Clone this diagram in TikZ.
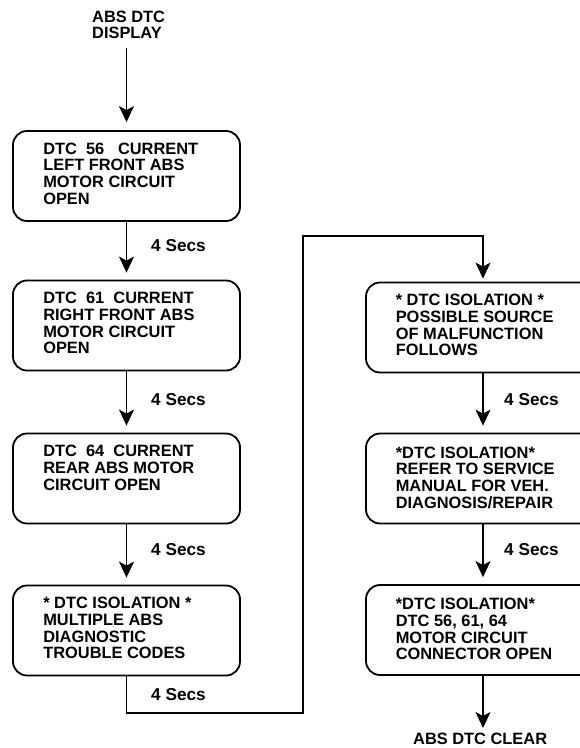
\documentclass[tikz,border=0pt]{standalone}
\usepackage{fontspec}
\setmainfont{Liberation Sans}
\usetikzlibrary{arrows.meta}
\begin{document}
\begin{tikzpicture}[x=1bp,y=-1bp,
 box/.style={draw, line width=1.8bp, rounded corners=14bp, minimum width=227bp, minimum height=90bp, inner sep=0pt},
 rbox/.style={box, minimum width=234bp},
 txt/.style={anchor=north west, inner sep=0pt, align=left, font=\bfseries\fontsize{16.4bp}{16.7bp}\selectfont},
 secs/.style={anchor=north west, inner sep=0pt, font=\bfseries\fontsize{17.2bp}{18bp}\selectfont},
 arr/.style={line width=1.4bp, -{Stealth[length=16bp,width=15bp,inset=4bp]}}]
\clip (0,0) rectangle (580,748);
% boxes
\node[box] (b1) at (126.5,176) {};
\node[box] (b2) at (126.5,325.5) {};
\node[box] (b3) at (126.5,478.5) {};
\node[box] (b4) at (126.5,630.5) {};
\node[rbox] (b5) at (483,327.5) {};
\node[rbox] (b6) at (483,478.5) {};
\node[rbox] (b7) at (483,630) {};
% texts
\node[txt] (title) at (92,10.5) {ABS DTC\\DISPLAY};
\node[txt] (t1) at ([shift={(31,12.5)}]b1.north west) {DTC\ \ 56\ \ \ CURRENT\\LEFT FRONT ABS\\MOTOR CIRCUIT\\OPEN};
\node[txt] (t2) at ([shift={(31,12.5)}]b2.north west) {DTC\ \ 61\ \ CURRENT\\RIGHT FRONT ABS\\MOTOR CIRCUIT\\OPEN};
\node[txt] (t3) at ([shift={(31,12.5)}]b3.north west) {DTC\ \ 64\ \ CURRENT\\REAR ABS MOTOR\\CIRCUIT OPEN};
\node[txt] (t4) at ([shift={(31,12.5)}]b4.north west) {* DTC ISOLATION *\\MULTIPLE ABS\\DIAGNOSTIC\\TROUBLE CODES};
\node[txt] (t5) at ([shift={(30.5,12.5)}]b5.north west) {* DTC ISOLATION *\\POSSIBLE SOURCE\\OF MALFUNCTION\\FOLLOWS};
\node[txt] (t6) at ([shift={(30.5,14)}]b6.north west) {*DTC ISOLATION*\\REFER TO SERVICE\\MANUAL FOR VEH.\\DIAGNOSIS/REPAIR};
\node[txt] (t7) at ([shift={(30.5,14)}]b7.north west) {*DTC ISOLATION*\\DTC 56, 61, 64\\MOTOR CIRCUIT\\CONNECTOR OPEN};
\node[txt] (clear) at (413,733) {ABS DTC CLEAR};
% delay labels
\node[secs] (s1) at (151,239) {4 Secs};
\node[secs] (s2) at (151,393) {4 Secs};
\node[secs] (s3) at (151,543) {4 Secs};
\node[secs] (s4) at (151,688) {4 Secs};
\node[secs] (s5) at (504,393) {4 Secs};
\node[secs] (s6) at (504,543) {4 Secs};
% connectors
\draw[arr, shorten <=9bp, shorten >=8bp] (b1.north |- title.south) -- (b1.north);
\draw[arr, shorten >=7bp] (b1.south) -- (b2.north);
\draw[arr, shorten >=7bp] (b2.south) -- (b3.north);
\draw[arr, shorten >=7bp] (b3.south) -- (b4.north);
\coordinate (c1) at (303,713);
\coordinate (c2) at (303,236);
\draw[arr, shorten >=3bp] (b4.south) |- (c1) -- (c2) -| (b5.north);
\draw[arr, shorten >=7bp] (b5.south) -- (b6.north);
\draw[arr, shorten >=7bp] (b6.south) -- (b7.north);
\draw[arr, shorten >=5bp] (b7.south) -- (b7.south |- clear.north);
\end{tikzpicture}
\end{document}
